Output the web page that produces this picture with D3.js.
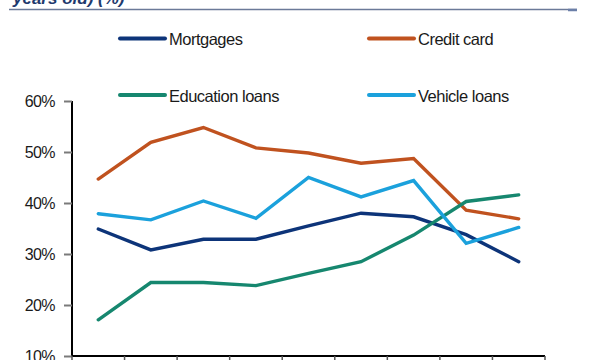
<!DOCTYPE html>
<html>
<head>
<meta charset="utf-8">
<script src="https://cdn.jsdelivr.net/npm/d3@7"></script>
<style>
  html, body { margin: 0; padding: 0; background: #fff; }
  svg { display: block; }
  text { font-family: "Liberation Sans", Arial, sans-serif; }
</style>
</head>
<body>
<svg id="chart" width="592" height="360"></svg>
<script>
// ---- data ----
const categories = ["c1", "c2", "c3", "c4", "c5", "c6", "c7", "c8", "c9"];
const mortgages = [34.9, 30.8, 32.9, 32.9, 35.5, 38.0, 37.3, 33.8, 28.5];
const creditCard = [44.7, 51.9, 54.8, 50.8, 49.8, 47.8, 48.7, 38.6, 36.9];
const educationLoans = [17.1, 24.4, 24.4, 23.8, 26.2, 28.5, 33.7, 40.3, 41.6];
const vehicleLoans = [37.9, 36.7, 40.4, 37.0, 45.0, 41.2, 44.4, 32.1, 35.2];
const seriesNames = ["Mortgages", "Credit card", "Education loans", "Vehicle loans"];
const yTicks = [10, 20, 30, 40, 50, 60];
const titleText = "years old) (%)";

const colors = ["#0d3479", "#c0521f", "#16876f", "#1ba1dc"];
const seriesValues = [mortgages, creditCard, educationLoans, vehicleLoans];

const svg = d3.select("#chart");

// title fragment + rule
svg.append("text")
  .attr("x", 13).attr("y", 4)
  .attr("font-size", 17).attr("font-weight", "bold").attr("font-style", "italic")
  .attr("fill", "#1f3a6e")
  .text(titleText);
svg.append("line").attr("x1", 9).attr("x2", 577).attr("y1", 9.5).attr("y2", 9.5)
  .attr("stroke", "#6b7a99").attr("stroke-width", 1.5);
svg.append("line").attr("x1", 568).attr("x2", 577).attr("y1", 10).attr("y2", 10)
  .attr("stroke", "#6b7fa8").attr("stroke-width", 2.5);

// scales
const x = d3.scaleBand().domain(categories).range([72, 545]);
const y = d3.scaleLinear().domain([10, 60]).range([356, 101]);

// y axis
const yAxis = svg.append("g").attr("transform", "translate(72,0)")
  .call(d3.axisLeft(y).tickValues(yTicks).tickFormat(d => d + "%").tickSize(8).tickPadding(9));
yAxis.select(".domain").attr("stroke", "#000").attr("stroke-width", 2).attr("d", "M0,101V356");
yAxis.selectAll(".tick line").attr("stroke", "#7a7a7a").attr("stroke-width", 2);
yAxis.selectAll(".tick text").attr("font-size", 16).attr("letter-spacing", "-0.6px")
  .attr("fill", "#1a1a1a").attr("font-family", "Liberation Sans, Arial, sans-serif");

// x axis (category labels fall below the visible area, as in the reference)
const xAxis = svg.append("g").attr("transform", "translate(0,356)")
  .call(d3.axisBottom(x).tickSize(0).tickPadding(14));
xAxis.select(".domain").attr("stroke", "#000").attr("stroke-width", 2).attr("d", "M72,0H545");
const bounds = categories.map(c => x(c)).concat([x(categories[categories.length - 1]) + x.bandwidth()]);
xAxis.selectAll(".bound").data(bounds).enter().append("line")
  .attr("x1", d => d).attr("x2", d => d).attr("y1", 0).attr("y2", 8)
  .attr("stroke", "#555").attr("stroke-width", 1.5);
xAxis.selectAll(".tick text").attr("font-size", 16).attr("fill", "#1a1a1a");

// lines
const line = d3.line()
  .x((d, i) => x(categories[i]) + x.bandwidth() / 2)
  .y(d => y(d));
seriesValues.forEach((vals, k) => {
  svg.append("path").datum(vals)
    .attr("d", line)
    .attr("fill", "none")
    .attr("stroke", colors[k])
    .attr("stroke-width", 3.4)
    .attr("stroke-linecap", "round")
    .attr("stroke-linejoin", "miter");
});

// legend
const legendPos = [[120, 38.5], [369, 38.5], [120, 95], [369, 95]];
seriesNames.forEach((name, k) => {
  const [lx, ly] = legendPos[k];
  svg.append("line").attr("x1", lx).attr("x2", lx + 45).attr("y1", ly).attr("y2", ly)
    .attr("stroke", colors[k]).attr("stroke-width", 4).attr("stroke-linecap", "round");
  svg.append("text").attr("x", lx + 49).attr("y", ly + 6.5)
    .attr("font-size", 16.5).attr("letter-spacing", "-0.5px").attr("fill", "#1a1a1a")
    .text(name);
});
</script>
</body>
</html>
